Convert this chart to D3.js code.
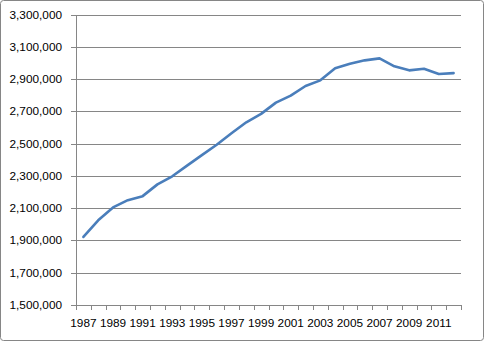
<!DOCTYPE html>
<html><head><meta charset="utf-8">
<script src="https://cdn.jsdelivr.net/npm/d3@7"></script>
<style>body{margin:0;background:#fff}svg{display:block}</style>
</head><body><svg id="c" width="484" height="341"></svg>
<script>
const years = [1987,1988,1989,1990,1991,1992,1993,1994,1995,1996,1997,1998,1999,2000,2001,2002,2003,2004,2005,2006,2007,2008,2009,2010,2011,2012];
const values = [1922000,2025000,2105000,2150000,2175000,2248000,2298000,2364000,2429000,2494000,2565000,2633000,2685000,2755000,2798000,2858000,2893000,2968000,2996000,3017000,3029000,2980000,2955000,2965000,2932000,2938000];
const yTicks = [1500000,1700000,1900000,2100000,2300000,2500000,2700000,2900000,3100000,3300000];
const xLabels = [1987,1989,1991,1993,1995,1997,1999,2001,2003,2005,2007,2009,2011];

const svg = d3.select("#c");
const L = 76, R = 461, T = 14.7, B = 305;
const font = "'Liberation Sans', Arial, sans-serif";

svg.append("rect").attr("x",0.5).attr("y",0.5).attr("width",483).attr("height",340)
  .attr("rx",3).attr("fill","#fff").attr("stroke","#868686");

const x = d3.scaleBand().domain(years).range([L,R]).padding(0);
const y = d3.scaleLinear().domain([1500000,3300000]).range([B,T]);

// gridlines + y ticks
const yAxis = d3.axisLeft(y).tickValues(yTicks).tickSize(5).tickSizeOuter(0)
  .tickFormat(d3.format(",")).tickPadding(9);
const gy = svg.append("g").attr("transform",`translate(${L},0)`).call(yAxis);
gy.select(".domain").attr("stroke","#868686");
gy.selectAll(".tick line").attr("stroke","#868686");
gy.selectAll(".tick text").attr("font-family",font).attr("font-size","11.8px").attr("fill","#000");

svg.append("g").selectAll("line").data(yTicks.slice(1)).join("line")
  .attr("x1",L).attr("x2",R).attr("y1",d=>Math.round(y(d))+0.5).attr("y2",d=>Math.round(y(d))+0.5)
  .attr("stroke","#868686").attr("stroke-width",1);
gy.selectAll(".tick").attr("transform",d=>`translate(0,${Math.round(y(d))+0.5})`);

// x axis
const bounds = years.map(d=>x(d)).concat([R]);
svg.append("line").attr("x1",L).attr("x2",R).attr("y1",B+0.5).attr("y2",B+0.5).attr("stroke","#868686");
svg.append("g").selectAll("line").data(bounds).join("line")
  .attr("x1",d=>Math.round(d)+0.5).attr("x2",d=>Math.round(d)+0.5).attr("y1",B).attr("y2",B+5)
  .attr("stroke","#868686");
svg.append("g").selectAll("text").data(xLabels).join("text")
  .attr("x",d=>x(d)+x.bandwidth()/2).attr("y",B+22)
  .attr("text-anchor","middle").attr("font-family",font).attr("font-size","11.8px").attr("fill","#000")
  .text(d=>d);

// line
const line = d3.line().x((d,i)=>x(years[i])+x.bandwidth()/2).y(d=>y(d));
svg.append("path").datum(values).attr("d",line).attr("fill","none")
  .attr("stroke","#4A7EBB").attr("stroke-width",2.6).attr("stroke-linejoin","round").attr("stroke-linecap","round");
</script></body></html>
